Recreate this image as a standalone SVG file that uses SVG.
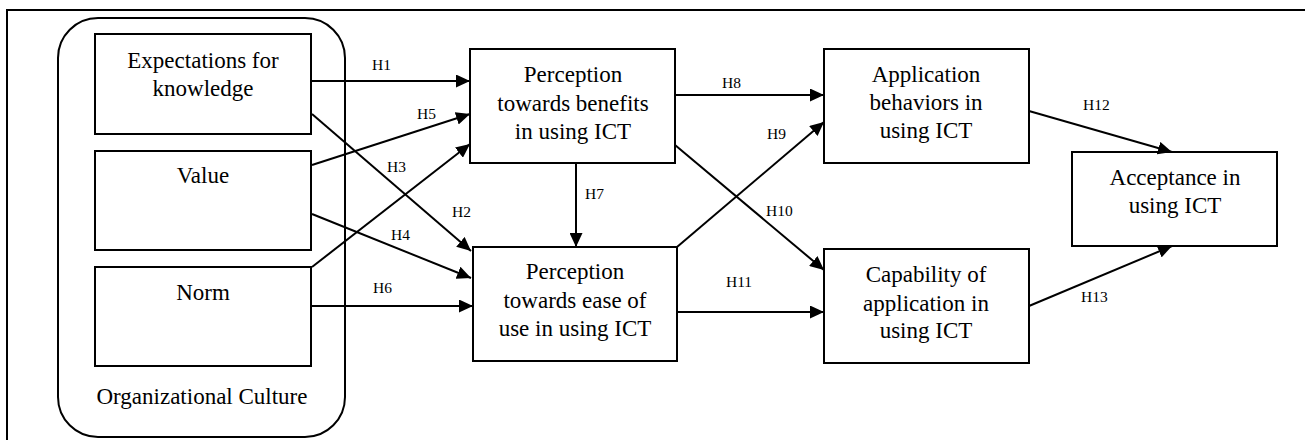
<svg xmlns="http://www.w3.org/2000/svg" width="1305" height="440" viewBox="0 0 1305 440">
<style>
.box{fill:#fff;stroke:#000;stroke-width:2}
.frame{fill:none;stroke:#000;stroke-width:2}
text{font-family:'Liberation Serif','DejaVu Serif',serif;fill:#000}
.t{font-size:23px;text-anchor:middle}
.l{font-size:15.5px}
.c{stroke:#000;stroke-width:2;fill:none;marker-end:url(#ah)}
</style>
<defs>
<marker id="ah" markerUnits="userSpaceOnUse" markerWidth="14" markerHeight="13" refX="14" refY="6.5" orient="auto">
<path d="M0,0 L14,6.5 L0,13 z" fill="#000"/>
</marker>
</defs>
<rect x="0" y="0" width="1305" height="440" fill="#fff"/>
<rect class="frame" x="7" y="10" width="1310" height="450"/>
<g id="organizational-culture">
<rect class="frame" x="58" y="18" width="287" height="419" rx="40" ry="40"/>
<text class="t" x="202" y="404" font-family="Liberation Serif, serif">Organizational Culture</text>
</g>
<g id="expectations">
<rect class="box" x="95" y="34" width="216" height="100"/>
<text class="t" x="203" y="68">Expectations for</text>
<text class="t" x="203" y="96">knowledge</text>
</g>
<g id="value">
<rect class="box" x="95" y="151" width="216" height="99"/>
<text class="t" x="203" y="183">Value</text>
</g>
<g id="norm">
<rect class="box" x="95" y="267" width="216" height="99"/>
<text class="t" x="203" y="300">Norm</text>
</g>
<g id="benefits">
<rect class="box" x="470" y="49" width="205" height="114"/>
<text class="t" x="573" y="82">Perception</text>
<text class="t" x="573" y="111">towards benefits</text>
<text class="t" x="573" y="139">in using ICT</text>
</g>
<g id="ease">
<rect class="box" x="473" y="247" width="204" height="114"/>
<text class="t" x="575" y="279">Perception</text>
<text class="t" x="575" y="308">towards ease of</text>
<text class="t" x="575" y="336">use in using ICT</text>
</g>
<g id="application">
<rect class="box" x="824" y="49" width="205" height="114"/>
<text class="t" x="926" y="82">Application</text>
<text class="t" x="926" y="110">behaviors in</text>
<text class="t" x="926" y="138">using ICT</text>
</g>
<g id="capability">
<rect class="box" x="824" y="249" width="205" height="114"/>
<text class="t" x="926" y="282">Capability of</text>
<text class="t" x="926" y="311">application in</text>
<text class="t" x="926" y="338">using ICT</text>
</g>
<g id="acceptance">
<rect class="box" x="1072" y="152" width="205" height="94"/>
<text class="t" x="1175" y="185">Acceptance in</text>
<text class="t" x="1175" y="213">using ICT</text>
</g>
<g id="connectors">
<line class="c" x1="311" y1="81" x2="470" y2="81"/>
<line class="c" x1="312" y1="165" x2="470" y2="114"/>
<line class="c" x1="312" y1="267" x2="470" y2="144"/>
<line class="c" x1="312" y1="114" x2="471" y2="251"/>
<line class="c" x1="312" y1="214" x2="471" y2="278"/>
<line class="c" x1="311" y1="306" x2="473" y2="306"/>
<line class="c" x1="576" y1="163" x2="576" y2="247"/>
<line class="c" x1="675" y1="95" x2="824" y2="95"/>
<line class="c" x1="677" y1="247" x2="824" y2="122"/>
<line class="c" x1="675" y1="145" x2="824" y2="270"/>
<line class="c" x1="677" y1="312" x2="824" y2="312"/>
<line class="c" x1="1029" y1="111" x2="1172" y2="152"/>
<line class="c" x1="1029" y1="306" x2="1172" y2="246"/>
</g>
<g id="labels">
<text class="l" x="372" y="70">H1</text>
<text class="l" x="417" y="119">H5</text>
<text class="l" x="387" y="172">H3</text>
<text class="l" x="452" y="217">H2</text>
<text class="l" x="391" y="240">H4</text>
<text class="l" x="373" y="293">H6</text>
<text class="l" x="585" y="199">H7</text>
<text class="l" x="722" y="88">H8</text>
<text class="l" x="767" y="139">H9</text>
<text class="l" x="766" y="216">H10</text>
<text class="l" x="726" y="287">H11</text>
<text class="l" x="1083" y="110">H12</text>
<text class="l" x="1081" y="302">H13</text>
</g>
</svg>
